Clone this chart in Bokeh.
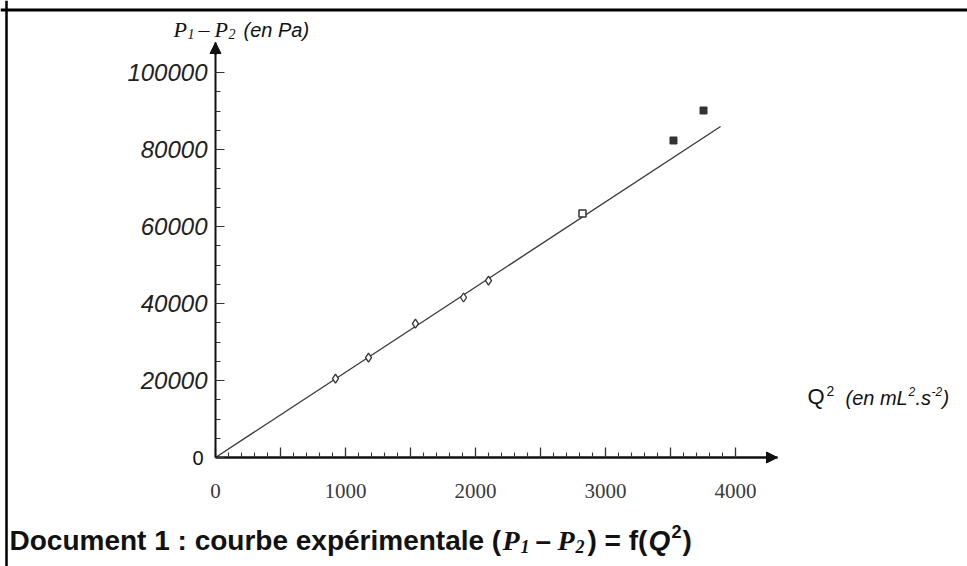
from bokeh.plotting import figure
from bokeh.models import (Label, Arrow, NormalHead, FixedTicker, LinearAxis, Range1d,
                          BasicTickFormatter, Span)
from bokeh.embed import file_html
from bokeh.resources import INLINE

# ---- data ----
Q2 = [923, 1177, 1538, 1908, 2100, 2823, 3523, 3754]          # mL^2.s^-2
DP = [20500, 25970, 34800, 41560, 45970, 63380, 82340, 90130]  # Pa
OPEN_IDX = [0, 1, 2, 3, 4]
SQUARE_OPEN_IDX = [5]
SQUARE_FULL_IDX = [6, 7]
FIT_Q2 = [0, 3885]
FIT_DP = [0, 85970]
X_TICKS = [0, 500, 1000, 1500, 2000, 2500, 3000, 3500, 4000]
X_HIDDEN = [500, 1500, 2500, 3500]
Y_TICKS = [0, 20000, 40000, 60000, 80000, 100000]

# ---- layout (pixels) ----
W, H = 967, 566
OX, OY = 215, 457            # pixel position of the origin
X_TIP_PX, Y_TIP_PX = 777, 42  # pixel position of the arrow tips
PX_PER_1000_X = 130.0
PX_PER_1000_Y = 3.85


def dx(px):
    return (px - OX) / PX_PER_1000_X * 1000


def dy(py):
    return (OY - py) / PX_PER_1000_Y * 1000


X_TIP = dx(X_TIP_PX)
Y_TIP = dy(Y_TIP_PX)

p = figure(width=W, height=H, output_backend="svg", toolbar_location=None,
           x_range=Range1d(dx(0), dx(W)), y_range=Range1d(dy(H), dy(0)),
           x_axis_type=None, y_axis_type=None, title=None,
           min_border=0, min_border_left=0, min_border_right=0,
           min_border_top=0, min_border_bottom=0)
p.outline_line_color = None
p.xgrid.grid_line_color = None
p.ygrid.grid_line_color = None
p.background_fill_color = "white"
p.border_fill_color = "white"

xaxis = LinearAxis(ticker=FixedTicker(ticks=X_TICKS, minor_ticks=list(range(0, 4001, 100))),
                   formatter=BasicTickFormatter(use_scientific=False),
                   fixed_location=0, bounds=(0, X_TIP))
xaxis.major_label_overrides = {t: "" for t in X_HIDDEN}
xaxis.axis_line_width = 2.5
xaxis.axis_line_color = "#111111"
xaxis.major_tick_in = 10
xaxis.major_tick_out = 0
xaxis.minor_tick_in = 5
xaxis.minor_tick_out = 0
xaxis.major_tick_line_color = "#333333"
xaxis.minor_tick_line_color = "#333333"
xaxis.major_tick_line_width = 1.3
xaxis.minor_tick_line_width = 1.1
xaxis.major_label_text_font = "Liberation Serif"
xaxis.major_label_text_font_size = "21px"
xaxis.major_label_text_color = "#3a3a3a"
xaxis.major_label_standoff = 26
p.add_layout(xaxis, "below")

yaxis = LinearAxis(ticker=FixedTicker(ticks=Y_TICKS, minor_ticks=list(range(0, 100001, 5000))),
                   formatter=BasicTickFormatter(use_scientific=False),
                   fixed_location=0, bounds=(0, Y_TIP))
yaxis.major_label_overrides = {0: ""}
yaxis.axis_line_width = 2
yaxis.axis_line_color = "#111111"
yaxis.major_tick_in = 9
yaxis.major_tick_out = 0
yaxis.minor_tick_in = 5
yaxis.minor_tick_out = 0
yaxis.major_tick_line_color = "#333333"
yaxis.minor_tick_line_color = "#333333"
yaxis.major_label_text_font = "Liberation Sans"
yaxis.major_label_text_font_style = "italic"
yaxis.major_label_text_font_size = "24px"
yaxis.major_label_text_color = "#222222"
yaxis.major_label_standoff = 8
p.add_layout(yaxis, "left")

# axis arrows
p.add_layout(Arrow(x_start=0, y_start=Y_TIP * 0.97, x_end=0, y_end=Y_TIP,
                   line_width=2, line_color="#111111",
                   end=NormalHead(size=11, fill_color="#111111", line_color="#111111")))
p.add_layout(Arrow(x_start=X_TIP * 0.98, y_start=0, x_end=X_TIP, y_end=0,
                   line_width=2.5, line_color="#111111",
                   end=NormalHead(size=11, fill_color="#111111", line_color="#111111")))

# fitted line and points
p.line(FIT_Q2, FIT_DP, line_color="#3c3c3c", line_width=1.4)
p.scatter([Q2[i] for i in OPEN_IDX], [DP[i] for i in OPEN_IDX], marker="diamond",
          size=9, fill_color="white", line_color="#333333", line_width=1.3)
p.scatter([Q2[i] for i in SQUARE_OPEN_IDX], [DP[i] for i in SQUARE_OPEN_IDX], marker="square",
          size=7, fill_color="white", line_color="#333333", line_width=1.5)
p.scatter([Q2[i] for i in SQUARE_FULL_IDX], [DP[i] for i in SQUARE_FULL_IDX], marker="square",
          size=7, fill_color="#333333", line_color="#333333", line_width=1)


def txt(s, px, py, size, font="Liberation Sans", style="normal", align="left",
        color="#111111"):
    # texts anchored at the origin (0, 0), shifted by pixel offsets; py is the text's middle
    p.add_layout(Label(x=0, y=0, x_offset=px - OX, y_offset=OY - py, text=s,
                       text_font=font, text_font_style=style, text_font_size=f"{size}px",
                       text_align=align, text_baseline="middle", text_color=color))


# "0" of the y axis
txt("0", 203, 457, 20, align="right")

# y axis title: P1 – P2 (en Pa)
txt("P", 173, 29, 22, font="Liberation Serif", style="italic")
txt("1", 187, 33, 14, font="Liberation Serif", style="italic")
txt("–", 198, 29, 22, font="Liberation Serif")
txt("P", 214, 29, 22, font="Liberation Serif", style="italic")
txt("2", 228, 33, 14, font="Liberation Serif", style="italic")
txt("(en Pa)", 243, 29, 20, style="italic")

# x axis title: Q² (en mL².s⁻²)
txt("Q", 807, 396, 22)
txt("2", 826, 390, 14)
txt("(en mL", 845, 397, 20, style="italic")
txt("2", 908, 391, 12, style="italic")
txt(".s", 915, 397, 20, style="italic")
txt("-2", 931, 391, 12, style="italic")
txt(")", 942, 397, 20, style="italic")

# caption
CY = 540
txt("Document 1 : courbe expérimentale (", 9, CY, 28, style="bold")
txt("P", 502, CY, 28, font="Liberation Serif", style="bold italic")
txt("1", 520, CY + 6, 18, font="Liberation Serif", style="bold italic")
txt("–", 535, CY, 28, style="bold")
txt("P", 557, CY, 28, font="Liberation Serif", style="bold italic")
txt("2", 575, CY + 6, 18, font="Liberation Serif", style="bold italic")
txt(") = f(", 587, CY, 28, style="bold")
txt("Q", 648, CY, 28, style="bold italic")
txt("2", 671, CY - 9, 18, style="bold")
txt(")", 682, CY, 28, style="bold")

# document frame lines (top and left)
p.add_layout(Span(location=dy(9.5), dimension="width", line_width=3, line_color="#000000"))
p.add_layout(Span(location=dx(6), dimension="height", line_width=2.5, line_color="#000000"))

open("out.html", "w").write(file_html(p, INLINE))
